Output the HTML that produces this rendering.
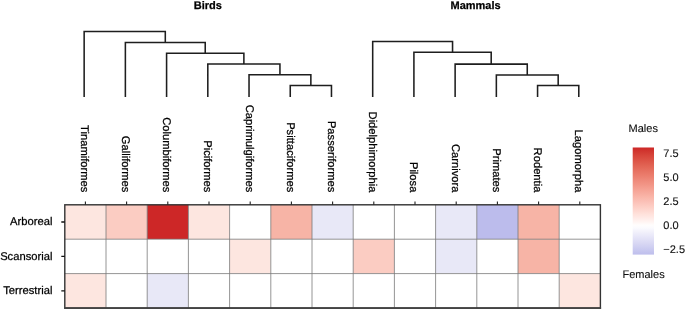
<!DOCTYPE html>
<html><head><meta charset="utf-8"><style>
html,body{margin:0;padding:0;background:#fff;}
svg{display:block;will-change:transform;}
text{font-family:"Liberation Sans",sans-serif;text-rendering:geometricPrecision;}
.ax{stroke:#000;stroke-width:0.25px;}
.tt{stroke:#000;stroke-width:0.25px;}
.lg{fill:#111;stroke:#111;stroke-width:0.12px;}
</style></head><body>
<svg width="685" height="309" viewBox="0 0 685 309">
<defs>
<linearGradient id="cb" x1="0" y1="0" x2="0" y2="1"><stop offset="0.0000" stop-color="#cd2626"/><stop offset="0.0250" stop-color="#d0322d"/><stop offset="0.0500" stop-color="#d33c33"/><stop offset="0.0750" stop-color="#d7453a"/><stop offset="0.1000" stop-color="#da4d41"/><stop offset="0.1250" stop-color="#dd5547"/><stop offset="0.1500" stop-color="#df5d4e"/><stop offset="0.1750" stop-color="#e26555"/><stop offset="0.2000" stop-color="#e56c5c"/><stop offset="0.2250" stop-color="#e77363"/><stop offset="0.2500" stop-color="#ea7a6a"/><stop offset="0.2750" stop-color="#ec8171"/><stop offset="0.3000" stop-color="#ee8879"/><stop offset="0.3250" stop-color="#f08f80"/><stop offset="0.3500" stop-color="#f29687"/><stop offset="0.3750" stop-color="#f49d8f"/><stop offset="0.4000" stop-color="#f6a496"/><stop offset="0.4250" stop-color="#f7ab9e"/><stop offset="0.4500" stop-color="#f9b2a5"/><stop offset="0.4750" stop-color="#fab9ad"/><stop offset="0.5000" stop-color="#fbbfb5"/><stop offset="0.5250" stop-color="#fcc6bd"/><stop offset="0.5500" stop-color="#fdcdc4"/><stop offset="0.5750" stop-color="#fed4cc"/><stop offset="0.6000" stop-color="#fedbd4"/><stop offset="0.6250" stop-color="#ffe2dc"/><stop offset="0.6500" stop-color="#ffe8e4"/><stop offset="0.6750" stop-color="#ffefec"/><stop offset="0.7000" stop-color="#fff6f4"/><stop offset="0.7250" stop-color="#fffdfd"/><stop offset="0.7500" stop-color="#fbfbfe"/><stop offset="0.7750" stop-color="#f5f4fc"/><stop offset="0.8000" stop-color="#efeefa"/><stop offset="0.8250" stop-color="#e9e8f9"/><stop offset="0.8500" stop-color="#e3e2f7"/><stop offset="0.8750" stop-color="#dddcf5"/><stop offset="0.9000" stop-color="#d7d6f3"/><stop offset="0.9250" stop-color="#d0d0f2"/><stop offset="0.9500" stop-color="#cacaf0"/><stop offset="0.9750" stop-color="#c4c4ee"/><stop offset="1.0000" stop-color="#bebeec"/></linearGradient>
</defs>

<rect x="64.80" y="204.80" width="41.20" height="34.40" fill="#fde6e0"/>
<rect x="106.00" y="204.80" width="41.20" height="34.40" fill="#fbccc2"/>
<rect x="147.20" y="204.80" width="41.20" height="34.40" fill="#cd2727"/>
<rect x="188.40" y="204.80" width="41.20" height="34.40" fill="#fde6e0"/>
<rect x="229.60" y="204.80" width="41.20" height="34.40" fill="#ffffff"/>
<rect x="270.80" y="204.80" width="41.20" height="34.40" fill="#f7b4a6"/>
<rect x="312.00" y="204.80" width="41.20" height="34.40" fill="#e8e8f7"/>
<rect x="353.20" y="204.80" width="41.20" height="34.40" fill="#ffffff"/>
<rect x="394.40" y="204.80" width="41.20" height="34.40" fill="#ffffff"/>
<rect x="435.60" y="204.80" width="41.20" height="34.40" fill="#e8e8f7"/>
<rect x="476.80" y="204.80" width="41.20" height="34.40" fill="#bcbcec"/>
<rect x="518.00" y="204.80" width="41.20" height="34.40" fill="#f7b4a6"/>
<rect x="559.20" y="204.80" width="41.20" height="34.40" fill="#ffffff"/>
<rect x="64.80" y="239.20" width="41.20" height="34.40" fill="#ffffff"/>
<rect x="106.00" y="239.20" width="41.20" height="34.40" fill="#ffffff"/>
<rect x="147.20" y="239.20" width="41.20" height="34.40" fill="#ffffff"/>
<rect x="188.40" y="239.20" width="41.20" height="34.40" fill="#ffffff"/>
<rect x="229.60" y="239.20" width="41.20" height="34.40" fill="#fde6e0"/>
<rect x="270.80" y="239.20" width="41.20" height="34.40" fill="#ffffff"/>
<rect x="312.00" y="239.20" width="41.20" height="34.40" fill="#ffffff"/>
<rect x="353.20" y="239.20" width="41.20" height="34.40" fill="#fbccc2"/>
<rect x="394.40" y="239.20" width="41.20" height="34.40" fill="#ffffff"/>
<rect x="435.60" y="239.20" width="41.20" height="34.40" fill="#e8e8f7"/>
<rect x="476.80" y="239.20" width="41.20" height="34.40" fill="#ffffff"/>
<rect x="518.00" y="239.20" width="41.20" height="34.40" fill="#f7b4a6"/>
<rect x="559.20" y="239.20" width="41.20" height="34.40" fill="#ffffff"/>
<rect x="64.80" y="273.60" width="41.20" height="34.40" fill="#fde6e0"/>
<rect x="106.00" y="273.60" width="41.20" height="34.40" fill="#ffffff"/>
<rect x="147.20" y="273.60" width="41.20" height="34.40" fill="#e8e8f7"/>
<rect x="188.40" y="273.60" width="41.20" height="34.40" fill="#ffffff"/>
<rect x="229.60" y="273.60" width="41.20" height="34.40" fill="#ffffff"/>
<rect x="270.80" y="273.60" width="41.20" height="34.40" fill="#ffffff"/>
<rect x="312.00" y="273.60" width="41.20" height="34.40" fill="#ffffff"/>
<rect x="353.20" y="273.60" width="41.20" height="34.40" fill="#ffffff"/>
<rect x="394.40" y="273.60" width="41.20" height="34.40" fill="#ffffff"/>
<rect x="435.60" y="273.60" width="41.20" height="34.40" fill="#ffffff"/>
<rect x="476.80" y="273.60" width="41.20" height="34.40" fill="#ffffff"/>
<rect x="518.00" y="273.60" width="41.20" height="34.40" fill="#ffffff"/>
<rect x="559.20" y="273.60" width="41.20" height="34.40" fill="#fde6e0"/>
<path d="M106.00 204.80V308.00 M147.20 204.80V308.00 M188.40 204.80V308.00 M229.60 204.80V308.00 M270.80 204.80V308.00 M312.00 204.80V308.00 M353.20 204.80V308.00 M394.40 204.80V308.00 M435.60 204.80V308.00 M476.80 204.80V308.00 M518.00 204.80V308.00 M559.20 204.80V308.00 M64.80 239.20H600.40 M64.80 273.60H600.40" stroke="#7a7a7a" stroke-width="0.8" fill="none"/>
<rect x="64.80" y="204.80" width="535.60" height="103.20" fill="none" stroke="#333" stroke-width="1.4"/>
<path d="M64.10 308.2H601.10" stroke="#444" stroke-width="1.7" fill="none"/>
<path d="M85.40 201.40V204.80 M126.60 201.40V204.80 M167.80 201.40V204.80 M209.00 201.40V204.80 M250.20 201.40V204.80 M291.40 201.40V204.80 M332.60 201.40V204.80 M373.80 201.40V204.80 M415.00 201.40V204.80 M456.20 201.40V204.80 M497.40 201.40V204.80 M538.60 201.40V204.80 M579.80 201.40V204.80" stroke="#222" stroke-width="1.1" fill="none"/>
<path d="M61.30 222.00H64.80 M61.30 256.40H64.80 M61.30 290.80H64.80" stroke="#111" stroke-width="1.35" fill="none"/>
<text transform="translate(80.80,192.4) rotate(90)" text-anchor="end" font-size="11.2" class="ax" fill="#000">Tinamiformes</text>
<text transform="translate(122.00,192.4) rotate(90)" text-anchor="end" font-size="11.2" class="ax" fill="#000">Galliformes</text>
<text transform="translate(163.20,192.4) rotate(90)" text-anchor="end" font-size="11.2" class="ax" fill="#000">Columbiformes</text>
<text transform="translate(204.40,192.4) rotate(90)" text-anchor="end" font-size="11.2" class="ax" fill="#000">Piciformes</text>
<text transform="translate(245.60,192.4) rotate(90)" text-anchor="end" font-size="11.2" class="ax" fill="#000">Caprimulgiformes</text>
<text transform="translate(286.80,192.4) rotate(90)" text-anchor="end" font-size="11.2" class="ax" fill="#000">Psittaciformes</text>
<text transform="translate(328.00,192.4) rotate(90)" text-anchor="end" font-size="11.2" class="ax" fill="#000">Passeriformes</text>
<text transform="translate(369.20,192.4) rotate(90)" text-anchor="end" font-size="11.2" class="ax" fill="#000">Didelphimorphia</text>
<text transform="translate(410.40,192.4) rotate(90)" text-anchor="end" font-size="11.2" class="ax" fill="#000">Pilosa</text>
<text transform="translate(451.60,192.4) rotate(90)" text-anchor="end" font-size="11.2" class="ax" fill="#000">Carnivora</text>
<text transform="translate(492.80,192.4) rotate(90)" text-anchor="end" font-size="11.2" class="ax" fill="#000">Primates</text>
<text transform="translate(534.00,192.4) rotate(90)" text-anchor="end" font-size="11.2" class="ax" fill="#000">Rodentia</text>
<text transform="translate(575.20,192.4) rotate(90)" text-anchor="end" font-size="11.2" class="ax" fill="#000">Lagomorpha</text>
<text x="52.4" y="225.20" text-anchor="end" font-size="11.2" class="ax" fill="#000">Arboreal</text>
<text x="52.4" y="259.60" text-anchor="end" font-size="11.2" class="ax" fill="#000">Scansorial</text>
<text x="52.4" y="294.00" text-anchor="end" font-size="11.2" class="ax" fill="#000">Terrestrial</text>
<text x="207.8" y="9" text-anchor="middle" font-size="11" font-weight="bold" class="tt" fill="#000">Birds</text>
<text x="475.6" y="9" text-anchor="middle" font-size="11" font-weight="bold" class="tt" fill="#000">Mammals</text>
<path d="M290.25 97.00V85.50H331.47V97.00 M249.03 97.00V74.80H310.86V85.50 M207.81 97.00V64.00H279.94V74.80 M166.59 97.00V53.30H243.88V64.00 M125.37 97.00V42.50H205.23V53.30 M84.15 97.00V31.40H165.30V42.50 M537.57 97.00V85.50H578.79V97.00 M496.35 97.00V75.00H558.18V85.50 M455.13 97.00V64.10H527.26V75.00 M413.91 97.00V52.30H491.20V64.10 M372.69 97.00V41.50H452.55V52.30" stroke="#1e1e1e" stroke-width="1.55" fill="none" stroke-linecap="butt" stroke-linejoin="miter"/>
<text x="628.6" y="132" font-size="11" class="lg">Males</text>
<rect x="632.7" y="147.5" width="21.3" height="107.1" fill="url(#cb)"/>
<text x="663.3" y="156.65" font-size="11" class="lg">7.5</text>
<text x="663.3" y="180.85" font-size="11" class="lg">5.0</text>
<text x="663.3" y="205.05" font-size="11" class="lg">2.5</text>
<text x="663.3" y="229.25" font-size="11" class="lg">0.0</text>
<text x="663.3" y="253.45" font-size="11" class="lg">−2.5</text>
<text x="622.5" y="277.6" font-size="11" class="lg">Females</text>
</svg></body></html>
